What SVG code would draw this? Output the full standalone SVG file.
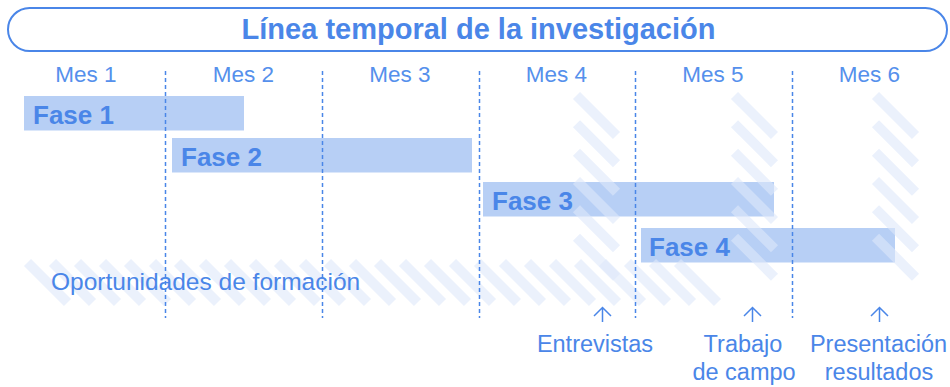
<svg xmlns="http://www.w3.org/2000/svg" xmlns:xlink="http://www.w3.org/1999/xlink" width="950" height="387" viewBox="0 0 950 387">
  <style>
    text { font-family: "Liberation Sans", Arial, sans-serif; fill: #4a86e8; }
    .title { font-size: 29px; font-weight: bold; text-anchor: middle; }
    .mes { font-size: 22.5px; text-anchor: middle; fill: #5590ec; }
    .fase { font-size: 26px; font-weight: bold; }
    .lbl { font-size: 23.5px; text-anchor: middle; }
    .op { font-size: 24.5px; }
    .bar { fill: #b7cff5; }
    .frame { fill: #ffffff; stroke: #4a86e8; stroke-width: 2; }
    .div { stroke: #4a86e8; stroke-width: 1.5; stroke-dasharray: 4 3; fill: none; }
    .stripe { stroke: #dde8fa; stroke-opacity: 0.6; stroke-width: 10; stroke-linecap: butt; }
    .arrow { stroke: #4a86e8; stroke-width: 1.5; fill: none; }
  </style>
  <defs>
    <line id="st" class="stripe" x1="0" y1="0" x2="40" y2="40"/>
  </defs>
  <rect width="950" height="387" fill="#ffffff"/>

  <g id="title">
    <rect class="frame" x="8" y="8" width="939" height="43" rx="21.5" ry="21.5"/>
    <text class="title" x="478.5" y="38.5">Línea temporal de la investigación</text>
  </g>

  <g id="months">
    <text class="mes" x="86" y="82">Mes 1</text>
    <text class="mes" x="243.5" y="82">Mes 2</text>
    <text class="mes" x="400" y="82">Mes 3</text>
    <text class="mes" x="556.5" y="82">Mes 4</text>
    <text class="mes" x="713" y="82">Mes 5</text>
    <text class="mes" x="869.5" y="82">Mes 6</text>
  </g>

  <g id="bars">
    <rect id="bar-fase1" class="bar" x="24" y="96" width="220" height="34.5"/>
    <rect id="bar-fase2" class="bar" x="172" y="138" width="300" height="34.5"/>
    <rect id="bar-fase3" class="bar" x="483" y="182" width="291" height="34.5"/>
    <rect id="bar-fase4" class="bar" x="641" y="228" width="254" height="34.5"/>
  </g>

  <g id="hatch-formacion">
    <use href="#st" x="27.5" y="262.5"/>
    <use href="#st" x="52.5" y="262.5"/>
    <use href="#st" x="77.5" y="262.5"/>
    <use href="#st" x="102.5" y="262.5"/>
    <use href="#st" x="127.5" y="262.5"/>
    <use href="#st" x="152.5" y="262.5"/>
    <use href="#st" x="177.5" y="262.5"/>
    <use href="#st" x="202.5" y="262.5"/>
    <use href="#st" x="227.5" y="262.5"/>
    <use href="#st" x="252.5" y="262.5"/>
    <use href="#st" x="277.5" y="262.5"/>
    <use href="#st" x="302.5" y="262.5"/>
    <use href="#st" x="327.5" y="262.5"/>
    <use href="#st" x="352.5" y="262.5"/>
    <use href="#st" x="377.5" y="262.5"/>
    <use href="#st" x="402.5" y="262.5"/>
    <use href="#st" x="427.5" y="262.5"/>
    <use href="#st" x="452.5" y="262.5"/>
    <use href="#st" x="477.5" y="262.5"/>
    <use href="#st" x="502.5" y="262.5"/>
    <use href="#st" x="527.5" y="262.5"/>
    <use href="#st" x="552.5" y="262.5"/>
    <use href="#st" x="577.5" y="262.5"/>
    <use href="#st" x="602.5" y="262.5"/>
    <use href="#st" x="627.5" y="262.5"/>
    <use href="#st" x="652.5" y="262.5"/>
    <use href="#st" x="677.5" y="262.5"/>
  </g>

  <g id="hatch-entrevistas">
    <use href="#st" x="576.5" y="95.5"/>
    <use href="#st" x="576.5" y="123.8"/>
    <use href="#st" x="576.5" y="152.2"/>
    <use href="#st" x="576.5" y="180.5"/>
    <use href="#st" x="576.5" y="208.8"/>
    <use href="#st" x="576.5" y="237.2"/>
  </g>
  <g id="hatch-campo">
    <use href="#st" x="734.5" y="95.5"/>
    <use href="#st" x="734.5" y="123.8"/>
    <use href="#st" x="734.5" y="152.2"/>
    <use href="#st" x="734.5" y="180.5"/>
    <use href="#st" x="734.5" y="208.8"/>
    <use href="#st" x="734.5" y="237.2"/>
  </g>
  <g id="hatch-presentacion">
    <use href="#st" x="875.5" y="95.5"/>
    <use href="#st" x="875.5" y="123.8"/>
    <use href="#st" x="875.5" y="152.2"/>
    <use href="#st" x="875.5" y="180.5"/>
    <use href="#st" x="875.5" y="208.8"/>
    <use href="#st" x="875.5" y="237.2"/>
  </g>

  <g id="dividers">
    <line class="div" x1="165.5" y1="71" x2="165.5" y2="318"/>
    <line class="div" x1="322.5" y1="71" x2="322.5" y2="318"/>
    <line class="div" x1="479.5" y1="71" x2="479.5" y2="318"/>
    <line class="div" x1="635.5" y1="71" x2="635.5" y2="318"/>
    <line class="div" x1="792.5" y1="71" x2="792.5" y2="318"/>
  </g>

  <g id="fase1"><text class="fase" x="33" y="124">Fase 1</text></g>
  <g id="fase2"><text class="fase" x="181" y="166">Fase 2</text></g>
  <g id="fase3"><text class="fase" x="492" y="209.5">Fase 3</text></g>
  <g id="fase4"><text class="fase" x="649" y="255.5">Fase 4</text></g>

  <g id="formacion"><text class="op" x="51" y="290">Oportunidades de formación</text></g>

  <g id="connectors">
    <path class="arrow" d="M602.5 322 V307.5 M594 316 L602.5 307.5 L611 316"/>
    <path class="arrow" d="M752.5 322 V307.5 M744 316 L752.5 307.5 L761 316"/>
    <path class="arrow" d="M879.5 322 V307.5 M871 316 L879.5 307.5 L888 316"/>
  </g>

  <g id="entrevistas"><text class="lbl" x="595" y="352">Entrevistas</text></g>
  <g id="trabajo-campo">
    <text class="lbl" x="743" y="352">Trabajo</text>
    <text class="lbl" x="744" y="380">de campo</text>
  </g>
  <g id="presentacion-resultados">
    <text class="lbl" x="878.5" y="352">Presentación</text>
    <text class="lbl" x="879" y="380">resultados</text>
  </g>
</svg>
